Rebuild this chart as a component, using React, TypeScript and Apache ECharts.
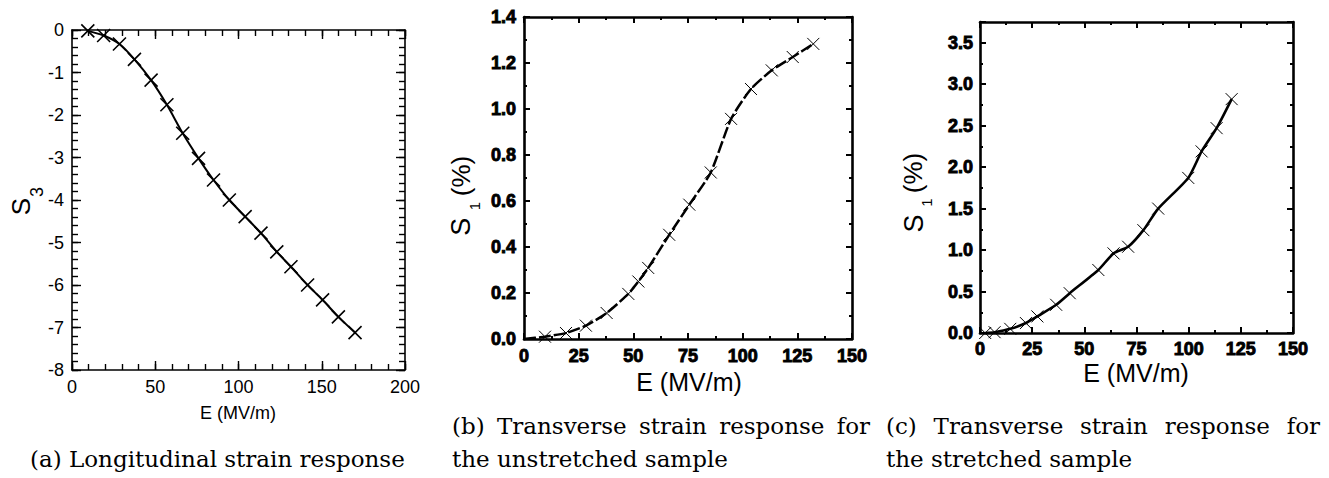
import React, { useEffect, useRef } from 'react';
import * as echarts from 'echarts';

// ---------- Panel (a): longitudinal strain ----------
const aE = [9.5, 19, 28.5, 37.5, 47.5, 57, 66.5, 76, 85, 94.5, 104, 113.5, 123, 131.5, 141.5, 150.5, 160, 170];
const aS = [-0.02, -0.13, -0.33, -0.69, -1.18, -1.76, -2.43, -3.02, -3.53, -4.0, -4.39, -4.78, -5.22, -5.57, -6.0, -6.35, -6.75, -7.12];
const aXRange = [0, 200];
const aXStep = [50, 10];
const aYRange = [-8, 0];
const aYStep = [1, 0.2];

// ---------- Panel (b): transverse, unstretched ----------
const bE = [0, 9.6, 19.2, 28.3, 37.8, 47.7, 52.3, 56.8, 66.4, 75.6, 85.4, 94.7, 103.8, 113.3, 122.9, 132.3];
const bS = [0, 0.01, 0.026, 0.058, 0.113, 0.196, 0.25, 0.309, 0.453, 0.584, 0.724, 0.957, 1.087, 1.168, 1.226, 1.283];
const bXRange = [0, 150];
const bXStep = [25, 12.5];
const bYRange = [0, 1.4];
const bYStep = [0.2, 0.1];

// ---------- Panel (c): transverse, stretched ----------
const cE = [2.5, 7, 14.5, 22, 27.5, 36.5, 43, 56.7, 64, 71, 78.3, 85.4, 99.8, 106.2, 113.4, 120.6];
const cS = [0.0, 0.01, 0.05, 0.12, 0.2, 0.34, 0.48, 0.76, 0.96, 1.04, 1.24, 1.5, 1.87, 2.19, 2.47, 2.82];
const cXRange = [0, 150];
const cXStep = [25, 12.5];
const cYRange = [0, 3.75];
const cYStep = [0.5, 0.25];

// ---------- Texts ----------
const xTitle = 'E (MV/m)';
const capA = ['(a) Longitudinal strain response'];
const capB = ['(b) Transverse strain response for', 'the unstretched sample'];
const capC = ['(c) Transverse strain response for', 'the stretched sample'];

const SANS = 'Liberation Sans';
const SERIF = 'DejaVu Serif';
const CROSS = 'path://M0,0L10,10M10,0L0,10';

function measure(text: string, font: string): number {
  const c = document.createElement('canvas').getContext('2d')!;
  c.font = font;
  return c.measureText(text).width;
}

type St = {
  lineW: number; tickW: number; major: number; minor: number;
  fontSize: number; fontWeight: any; margin: number; border: number;
};

function axesFor(gi: number, xr: number[], xs: number[], yr: number[], ys: number[], st: St, yDigits: number) {
  const xAxes: any[] = [];
  const yAxes: any[] = [];
  const mk = (pos: string, range: number[], interval: number, isMajor: boolean, showLabel: boolean, digits: number) => ({
    type: 'value',
    gridIndex: gi,
    position: pos,
    min: range[0],
    max: range[1],
    interval,
    axisLine: { show: isMajor, onZero: false, lineStyle: { color: '#000', width: st.lineW } },
    axisTick: { show: true, inside: true, length: isMajor ? st.major : st.minor, lineStyle: { color: '#000', width: st.tickW } },
    axisLabel: {
      show: showLabel,
      color: '#000',
      fontFamily: SANS,
      fontSize: st.fontSize,
      fontWeight: st.fontWeight,
      margin: st.margin,
      textBorderColor: st.border > 0 ? '#000' : 'transparent',
      textBorderWidth: st.border,
      formatter: (v: number) => {
        const k = v / interval;
        if (Math.abs(k - Math.round(k)) > 1e-6) return '';
        return v.toFixed(digits);
      },
    },
    splitLine: { show: false },
    minorTick: { show: false },
  });
  xAxes.push(mk('bottom', xr, xs[0], true, true, 0));
  xAxes.push(mk('bottom', xr, xs[1], false, false, 0));
  xAxes.push(mk('top', xr, xs[0], true, false, 0));
  xAxes.push(mk('top', xr, xs[1], false, false, 0));
  yAxes.push(mk('left', yr, ys[0], true, true, yDigits));
  yAxes.push(mk('left', yr, ys[1], false, false, yDigits));
  yAxes.push(mk('right', yr, ys[0], true, false, yDigits));
  yAxes.push(mk('right', yr, ys[1], false, false, yDigits));
  return { xAxes, yAxes };
}

function rotText(text: string, x: number, y: number, size: number) {
  return {
    type: 'text', x, y, rotation: Math.PI / 2,
    style: {
      text, fill: '#000',
      fontSize: size, fontFamily: SANS,
      align: 'center', verticalAlign: 'middle',
    },
  };
}

function plainText(text: string, x: number, y: number, size: number, family: string, align = 'center') {
  return {
    type: 'text', x, y,
    style: {
      text, fill: '#000',
      fontSize: size, fontFamily: family,
      align, verticalAlign: 'middle',
    },
  };
}

function justified(line: string, left: number, right: number, y: number, size: number) {
  const font = `${size}px "${SERIF}"`;
  const words = line.split(' ');
  const ws = words.map((w) => measure(w, font));
  const sum = ws.reduce((a, b) => a + b, 0);
  const gap = words.length > 1 ? (right - left - sum) / (words.length - 1) : 0;
  const out: any[] = [];
  let x = left;
  words.forEach((w, i) => {
    out.push(plainText(w, x, y, size, SERIF, 'left'));
    x += ws[i] + gap;
  });
  return out;
}

export default function App() {
  const ref = useRef<HTMLDivElement>(null);
  useEffect(() => {
    const chart = echarts.init(ref.current!, null, { renderer: 'svg' });

    const stA: St = { lineW: 1.6, tickW: 1.4, major: 9, minor: 6, fontSize: 18, fontWeight: 'normal', margin: 8, border: 0 };
    const stB: St = { lineW: 2.6, tickW: 2, major: 6, minor: 3, fontSize: 18, fontWeight: 'bold', margin: 8, border: 0.9 };
    const stC: St = { lineW: 2.6, tickW: 2, major: 6, minor: 3, fontSize: 18, fontWeight: 'bold', margin: 7, border: 0.9 };

    const A = axesFor(0, aXRange, aXStep, aYRange, aYStep, stA, 0);
    const B = axesFor(1, bXRange, bXStep, bYRange, bYStep, stB, 1);
    const C = axesFor(2, cXRange, cXStep, cYRange, cYStep, stC, 1);

    const pts = (E: number[], S: number[]) => E.map((e, i) => [e, S[i]]);
    const bData: any[] = pts(bE, bS).map((p, i) => (i === 0 ? { value: p, symbol: 'none' } : p));

    const sz = 23;
    const graphic: any[] = [
      // axis titles
      plainText(xTitle, 238, 413, 18, SANS),
      plainText(xTitle, 689, 382, 25, SANS),
      plainText(xTitle, 1136, 373, 25, SANS),
      // y titles
      rotText('S', 21, 206.5, 26),
      rotText('3', 36.5, 192, 18),
      rotText('S', 461, 226.7, 27),
      rotText('1', 474.5, 206, 15),
      rotText('(%)', 461, 176, 26),
      rotText('S', 914, 223.5, 27),
      rotText('1', 926.5, 202.5, 15),
      rotText('(%)', 913, 173, 26),
      // captions
      plainText(capA[0], 30, 459, sz, SERIF, 'left'),
      ...justified(capB[0], 452, 870, 426, sz),
      plainText(capB[1], 452, 459, sz, SERIF, 'left'),
      ...justified(capC[0], 886, 1320, 426, sz),
      plainText(capC[1], 886, 459, sz, SERIF, 'left'),
    ];

    chart.setOption({
      animation: false,
      backgroundColor: '#fff',
      textStyle: { fontFamily: SANS },
      grid: [
        { left: 72, top: 30, width: 333, height: 340, containLabel: false, outerBoundsMode: 'none' },
        { left: 524, top: 17, width: 328, height: 322, containLabel: false, outerBoundsMode: 'none' },
        { left: 980, top: 22, width: 313, height: 311, containLabel: false, outerBoundsMode: 'none' },
      ],
      xAxis: [...A.xAxes, ...B.xAxes, ...C.xAxes],
      yAxis: [...A.yAxes, ...B.yAxes, ...C.yAxes],
      series: [
        {
          type: 'line', xAxisIndex: 0, yAxisIndex: 0, data: pts(aE, aS),
          symbol: CROSS, symbolSize: 13, smooth: 0.25, clip: false,
          lineStyle: { color: '#000', width: 2 },
          itemStyle: { color: 'none', borderColor: '#000', borderWidth: 1.6 },
        },
        {
          type: 'line', xAxisIndex: 4, yAxisIndex: 4, data: bData,
          symbol: CROSS, symbolSize: 12, smooth: 0.2, clip: false,
          lineStyle: { color: '#000', width: 2.5, type: [12, 3] },
          itemStyle: { color: 'none', borderColor: '#000', borderWidth: 1 },
        },
        {
          type: 'line', xAxisIndex: 8, yAxisIndex: 8, data: pts(cE, cS),
          symbol: CROSS, symbolSize: 12, smooth: 0.2, clip: false,
          lineStyle: { color: '#000', width: 2.6 },
          itemStyle: { color: 'none', borderColor: '#000', borderWidth: 1 },
        },
      ],
      graphic,
    });
    return () => chart.dispose();
  }, []);
  return (
    <div
      ref={ref}
      style={{ position: 'absolute', left: 0, top: 0, width: 1329, height: 478, background: '#fff' }}
    />
  );
}
